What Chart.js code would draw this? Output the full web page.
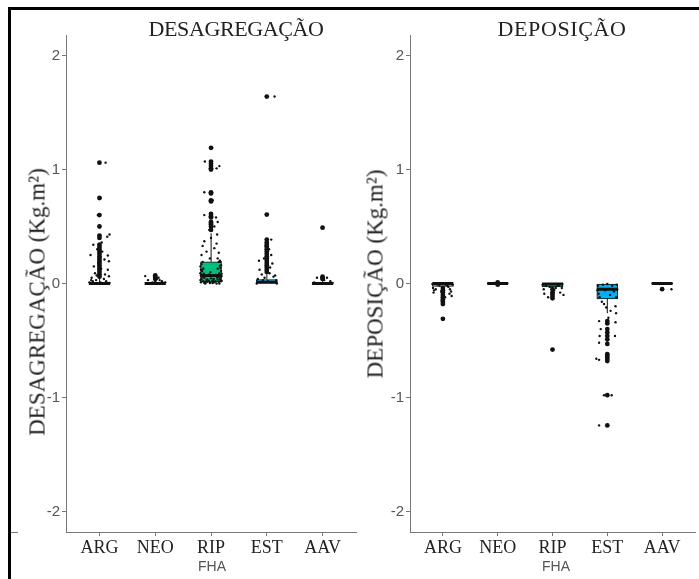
<!DOCTYPE html>
<html>
<head>
<meta charset="utf-8">
<script src="https://cdn.jsdelivr.net/npm/chart.js@4.4.1/dist/chart.umd.min.js"></script>
<style>
html,body{margin:0;padding:0;background:#fff;}
#page{position:relative;width:699px;height:579px;overflow:hidden;background:#fff;}
.abs{position:absolute;}
canvas{position:absolute;top:0;}
.ptitle{font-family:"Liberation Serif","Times New Roman",serif;font-size:22px;line-height:1;color:#222;white-space:nowrap;transform:translate(-50%,-50%);}
.ytitle{font-family:"Liberation Serif","Times New Roman",serif;font-size:23px;line-height:1;color:#222;white-space:nowrap;transform:translate(-50%,-50%) rotate(-90deg);}
.fha{font-family:"Liberation Sans",Arial,sans-serif;font-size:14px;line-height:1;color:#555;white-space:nowrap;transform:translate(-50%,-50%);}
</style>
</head>
<body>
<div id="page">
  <canvas id="cDes" width="360" height="579" style="left:0px"></canvas>
  <canvas id="cDep" width="349" height="579" style="left:350px"></canvas>
  <div class="abs" style="left:8px;top:7px;width:691px;height:3px;background:#000"></div>
  <div class="abs" style="left:8px;top:7px;width:3px;height:572px;background:#000"></div>
  <div class="abs" style="left:11px;top:532px;width:7px;height:1px;background:#777"></div>
  <div class="abs ptitle" style="left:236px;top:29px;letter-spacing:-0.4px">DESAGREGAÇÃO</div>
  <div class="abs ptitle" style="left:562px;top:29px;letter-spacing:0.6px">DEPOSIÇÃO</div>
  <div class="abs ytitle" style="left:37px;top:302px">DESAGREGAÇÃO (Kg.m²)</div>
  <div class="abs ytitle" style="left:375px;top:274px">DEPOSIÇÃO (Kg.m²)</div>
  <div class="abs fha" style="left:212px;top:566px">FHA</div>
  <div class="abs fha" style="left:556px;top:566px">FHA</div>
</div>
<script>
// ---------- DATA ----------
const categories = ['ARG', 'NEO', 'RIP', 'EST', 'AAV'];
const yTickValues = [-2, -1, 0, 1, 2];
const boxFills = ['#F8766D', '#A3A500', '#00BF7D', '#00B0F6', '#E76BF3'];

// boxes: [q1, median, q3, lowerWhisker, upperWhisker]
const desBoxes = [
  [0, 0, 0.01, 0, 0.05],
  [0, 0, 0.005, 0, 0.03],
  [0.015, 0.07, 0.19, 0, 0.44],
  [0, 0.01, 0.035, 0, 0.08],
  [0, 0, 0.005, 0, 0.03]
];
const desOutliers = [
  [1.06, 0.75, 0.60, 0.50, 0.42, 0.40, 0.34, 0.32, 0.30, 0.28, 0.26, 0.24, 0.22, 0.20, 0.18, 0.16, 0.14, 0.12, 0.10, 0.08, 0.06],
  [0.07, 0.06, 0.05, 0.04],
  [1.19, 1.07, 1.05, 1.03, 1.01, 1.00, 0.80, 0.79, 0.73, 0.72, 0.61, 0.59, 0.58, 0.54, 0.53, 0.52, 0.50, 0.47],
  [1.64, 0.605, 0.385, 0.36, 0.34, 0.32, 0.30, 0.28, 0.26, 0.24, 0.22, 0.20, 0.18, 0.16, 0.14, 0.12, 0.10],
  [0.49, 0.06, 0.05, 0.04]
];
// jitter points: [x offset from category (category units), value]
const desJitter = [
  [[0.11,1.06],[0.02,0.75],[-0.03,0.60],[0.01,0.50],[0.14,0.41],[0.18,0.43],[-0.11,0.34],[-0.04,0.30],[-0.16,0.25],[0.15,0.245],[0.09,0.21],[0.17,0.195],[-0.10,0.15],[0.15,0.12],[-0.08,0.09],[0.17,0.064],[-0.14,0.05],[0.05,0.28],[-0.02,0.18],[0.03,0.13],[-0.05,0.07],[0.08,0.04],[-0.12,0.02],[0.12,0.02],[-0.18,0.01],[0.18,0.005],[-0.06,0.03],[0.02,0.01],[0.10,0.08],[-0.15,0.03],[0.00,0.24],[0.04,0.36]],
  [[-0.18,0.065],[-0.13,0.03],[0.12,0.02],[0.03,0.04],[0.06,0.05],[-0.05,0.01],[0.15,0.005],[-0.10,0.0],[0.18,0.01],[0.00,0.02],[0.08,0.03]],
  [[-0.11,1.07],[0.10,1.01],[0.15,1.03],[0.02,1.19],[-0.12,0.80],[0.03,0.73],[-0.12,0.60],[0.12,0.54],[0.09,0.58],[0.06,0.50],[-0.03,0.47],
   [-0.12,0.37],[-0.15,0.33],[0.11,0.43],[0.10,0.35],[0.06,0.31],[0.14,0.27],[-0.08,0.28],[0.00,0.40],[-0.02,0.22],[0.12,0.22],[-0.17,0.25],[0.16,0.20],
   [-0.18,0.01],[-0.14,0.02],[-0.10,0.00],[-0.06,0.015],[-0.02,0.005],[0.02,0.02],[0.06,0.01],[0.10,0.00],[0.14,0.015],[0.18,0.02],
   [-0.17,0.04],[-0.12,0.05],[-0.07,0.035],[0.00,0.045],[0.05,0.04],[0.11,0.055],[0.16,0.035],
   [-0.18,0.07],[-0.13,0.085],[-0.03,0.08],[0.08,0.075],[0.15,0.09],[0.19,0.065],
   [-0.16,0.11],[0.12,0.13],[0.18,0.11],[-0.19,0.15],[0.16,0.155],[-0.15,0.19],[0.14,0.19],
   [-0.08,0.03],[0.13,0.06],[-0.01,0.10],[0.17,0.135],[-0.14,0.13],
   [-0.19,0.03],[-0.16,0.06],[-0.09,0.015],[-0.04,0.025],[0.04,0.03],[0.08,0.02],[0.12,0.035],[0.17,0.05],[0.19,0.025],
   [-0.19,0.09],[-0.18,0.12],[-0.17,0.17],[0.18,0.16],[0.19,0.085],[0.17,0.19],[0.03,0.005],[-0.12,0.005],[0.15,0.0]],
  [[0.14,1.64],[0.00,0.605],[0.08,0.385],[0.08,0.25],[-0.14,0.20],[0.10,0.175],[-0.13,0.12],[0.04,0.30],[-0.05,0.22],[0.06,0.14],[-0.09,0.08],[0.12,0.06],[-0.16,0.04],[0.17,0.03],[-0.04,0.05],[0.02,0.02],[-0.12,0.01],[0.09,0.01],[0.15,0.07],[-0.07,0.03],[0.18,0.0],[-0.18,0.0],[0.05,0.09],[-0.02,0.33]],
  [[-0.10,0.05],[0.08,0.05],[0.00,0.49],[-0.15,0.01],[0.14,0.02],[0.03,0.03],[-0.05,0.0],[0.18,0.005]]
];

const depBoxes = [
  [-0.025, 0, 0, -0.06, 0],
  [-0.004, 0, 0.004, -0.01, 0.01],
  [-0.03, -0.005, 0, -0.07, 0],
  [-0.135, -0.05, 0, -0.26, 0],
  [-0.004, 0, 0.004, -0.01, 0.01]
];
const depOutliers = [
  [-0.04, -0.06, -0.08, -0.10, -0.12, -0.14, -0.16, -0.18, -0.31],
  [0.01, -0.01],
  [-0.05, -0.08, -0.09, -0.11, -0.13, -0.58],
  [-0.33, -0.35, -0.40, -0.43, -0.46, -0.49, -0.53, -0.62, -0.64, -0.66, -0.68, -0.98, -1.245],
  [-0.05]
];
const depJitter = [
  [[-0.18,-0.04],[-0.16,-0.06],[-0.13,-0.05],[-0.17,-0.08],[0.10,-0.03],[0.13,-0.05],[0.15,-0.07],[0.12,-0.09],[0.16,-0.11],[-0.06,-0.02],[0.05,-0.01],[-0.10,-0.01],[0.00,-0.03],[-0.03,-0.07],[0.04,-0.12],[-0.02,-0.15],[0.18,-0.01],[-0.19,-0.005],[0.08,-0.02]],
  [[-0.15,0.0],[-0.07,0.005],[0.02,-0.005],[0.10,0.0],[0.17,0.003],[0.00,0.01]],
  [[-0.16,-0.05],[-0.15,-0.09],[0.17,-0.04],[0.14,-0.08],[0.20,-0.10],[-0.12,-0.02],[0.08,-0.01],[-0.05,-0.03],[0.11,-0.02],[0.18,-0.005],[-0.18,-0.01],[0.03,-0.06],[-0.08,-0.12],[0.00,-0.13],[0.00,-0.58],[0.06,-0.04]],
  [[-0.15,-0.33],[0.16,-0.26],[0.15,-0.34],[-0.12,-0.40],[0.14,-0.46],[-0.14,-0.46],[-0.15,-0.52],[-0.20,-0.66],[-0.15,-0.67],[-0.06,-0.98],[0.08,-0.98],[-0.15,-1.245],[0.15,-0.20],[-0.16,-0.09],[-0.14,-0.12],[-0.10,-0.16],[-0.06,-0.18],[-0.02,-0.21],[0.06,-0.24],[-0.17,-0.02],[-0.08,-0.01],[0.00,-0.005],[0.09,-0.02],[0.17,-0.01],[0.18,-0.05],[0.12,-0.07],[-0.04,-0.06],[0.05,-0.10],[0.16,-0.12],[-0.18,-0.06],[0.02,-0.30],[0.00,-0.50]],
  [[-0.01,-0.05],[0.17,-0.05],[-0.15,0.0],[0.10,0.003],[-0.05,-0.005]]
];

// ---------- CHART BUILDING ----------
const BOX_HALF = 0.19;
function buildDatasets(boxes, outliers, jitter) {
  const jit = [], out = [], med = [], whisk = [], box = [];
  jitter.forEach((pts, i) => pts.forEach(p => jit.push({x: i + 1 + p[0], y: p[1]})));
  outliers.forEach((vals, i) => vals.forEach(v => out.push({x: i + 1, y: v})));
  boxes.forEach((b, i) => {
    const x = i + 1;
    med.push({x: x - BOX_HALF, y: b[1]}, {x: x + BOX_HALF, y: b[1]}, {x: x + BOX_HALF + 0.01, y: null});
    whisk.push({x: x, y: b[3]}, {x: x, y: b[0]}, {x: x + 0.001, y: null});
    whisk.push({x: x + 0.002, y: b[2]}, {x: x + 0.002, y: b[4]}, {x: x + 0.003, y: null});
    box.push({x: x, y: [b[0], b[2]]});
  });
  return [
    {type: 'scatter', label: 'jitter', data: jit, pointRadius: 1.2, pointBackgroundColor: '#111', pointBorderWidth: 0, order: 0},
    {type: 'scatter', label: 'outliers', data: out, pointRadius: 2.4, pointBackgroundColor: '#111', pointBorderWidth: 0, order: 1},
    {type: 'line', label: 'median', data: med, borderColor: '#111', borderWidth: 3, pointRadius: 0, spanGaps: false, fill: false, order: 2},
    {type: 'line', label: 'whisker', data: whisk, borderColor: '#111', borderWidth: 1, pointRadius: 0, spanGaps: false, fill: false, order: 3},
    {type: 'bar', label: 'box', data: box, backgroundColor: boxFills, borderColor: '#111', borderWidth: 1, borderSkipped: false, barThickness: 21, grouped: false, order: 4}
  ];
}

function makeChart(id, boxes, outliers, jitter, pad) {
  return new Chart(document.getElementById(id), {
    type: 'bar',
    data: {datasets: buildDatasets(boxes, outliers, jitter)},
    options: {
      responsive: false,
      animation: false,
      events: [],
      layout: {padding: pad},
      plugins: {legend: {display: false}, tooltip: {enabled: false}},
      scales: {
        x: {
          type: 'linear', min: 0.4, max: 5.6, offset: false,
          afterBuildTicks: s => { s.ticks = categories.map((c, i) => ({value: i + 1})); },
          afterFit: s => { s.height = 47; },
          ticks: {
            callback: v => categories[Math.round(v) - 1],
            font: {family: '"Liberation Serif", "Times New Roman", serif', size: 18},
            color: '#222', padding: 1, autoSkip: false, maxRotation: 0
          },
          grid: {offset: false, drawOnChartArea: false, drawTicks: true, tickLength: 4, color: '#777'},
          border: {display: true, color: '#777', width: 1}
        },
        y: {
          type: 'linear', min: -2.18, max: 2.18,
          afterBuildTicks: s => { s.ticks = yTickValues.map(v => ({value: v})); },
          afterFit: s => { s.width = 56; },
          ticks: {
            callback: v => String(v),
            font: {family: '"Liberation Sans", Arial, sans-serif', size: 15},
            color: '#555', padding: 2
          },
          grid: {drawOnChartArea: false, drawTicks: true, tickLength: 4, color: '#777'},
          border: {display: true, color: '#777', width: 1}
        }
      }
    }
  });
}

makeChart('cDes', desBoxes, desOutliers, desJitter, {left: 10, right: 3, top: 35, bottom: 0});
makeChart('cDep', depBoxes, depOutliers, depJitter, {left: 4, right: 0, top: 35, bottom: 0});
</script>
</body>
</html>
